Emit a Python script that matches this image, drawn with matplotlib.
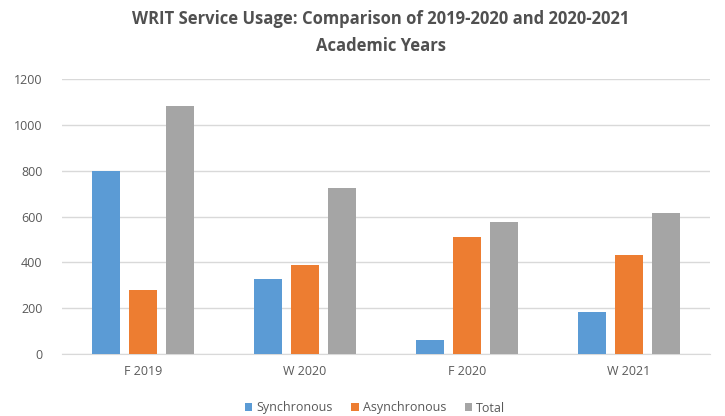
import numpy as np
from matplotlib import pyplot as plt

plt.rcParams['font.family'] = ['Open Sans', 'DejaVu Sans']

terms = ['F 2019', 'W 2020', 'F 2020', 'W 2021']
sync = [800, 327, 62, 183]
asyn = [278, 389, 510, 430]
total = [1080, 724, 574, 615]

fig = plt.figure(figsize=(7.25, 4.16), dpi=100)
ax = fig.add_axes([62/725, 1 - 354/416, 648/725, 275/416])

x = np.arange(len(terms))
w = 0.175
step = 0.228
ax.bar(x - step, sync, w, color='#5B9BD5', label='Synchronous', zorder=3)
ax.bar(x, asyn, w, color='#ED7D31', label='Asynchronous', zorder=3)
ax.bar(x + step, total, w, color='#A5A5A5', label='Total', zorder=3)

ax.set_xlim(-0.5, 3.5)
ax.set_ylim(0, 1200)
ax.set_yticks(range(0, 1201, 200))
ax.set_xticks(x)
ax.set_xticklabels(terms)
ax.yaxis.grid(True, color='#D9D9D9', lw=1, zorder=0)
for s in ['top', 'right', 'left']:
    ax.spines[s].set_visible(False)
ax.spines['bottom'].set_color('#D9D9D9')
ax.tick_params(axis='both', length=0, colors='#595959', labelsize=9)
ax.tick_params(axis='y', pad=14)
ax.tick_params(axis='x', pad=8)

fig.text(381/725, 1 - 19/416, 'WRIT Service Usage: Comparison of 2019-2020 and 2020-2021',
         ha='center', va='center', fontsize=12, fontweight='bold', color='#505050')
fig.text(381/725, 1 - 46/416, 'Academic Years',
         ha='center', va='center', fontsize=12, fontweight='bold', color='#505050')

fig.legend(loc='center', bbox_to_anchor=(375/725, 1 - 408/416), ncol=3, frameon=False,
           fontsize=9, handlelength=0.6, handleheight=0.6, handletextpad=0.3,
           columnspacing=1.5, labelcolor='#595959')

fig.savefig('out.png', dpi=100)
